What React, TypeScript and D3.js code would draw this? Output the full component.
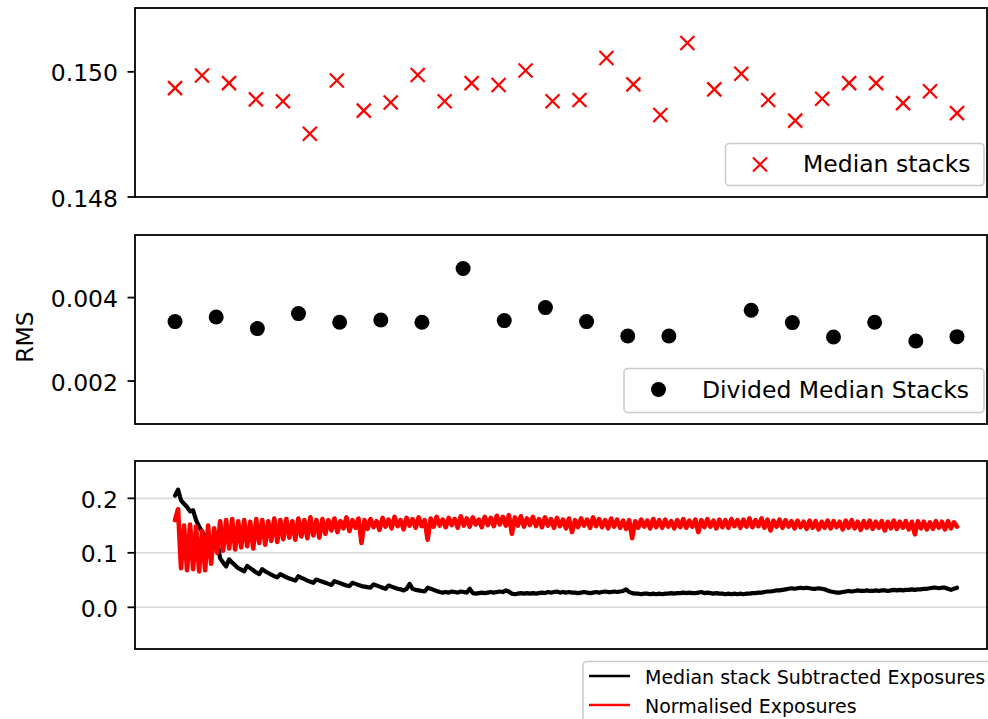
import React from "react";
import * as d3 from "d3";

// Median stack RMS per stack
const medianStacks: number[] = [
  0.14974, 0.14994, 0.14982, 0.14956, 0.14953, 0.14901, 0.14986, 0.14938,
  0.14951, 0.14995, 0.14953, 0.14982, 0.14979, 0.15002, 0.14953, 0.14955,
  0.15022, 0.1498, 0.14931, 0.15046, 0.14972, 0.14997, 0.14955, 0.14922,
  0.14957, 0.14982, 0.14982, 0.1495, 0.14969, 0.14934,
];

// Divided median stack RMS (one stack has no value)
const dividedStacks: (number | null)[] = [
  0.003424, 0.003536, 0.003256, 0.003616, 0.003408, 0.003464, 0.003408,
  0.004696, 0.003448, 0.00376, 0.003424, 0.00308, 0.00308, null, 0.003696,
  0.0034, 0.003056, 0.003408, 0.00296, 0.003064,
];

// Running RMS of the median-stack subtracted exposures
const subtractedRms: number[] = [
  0.205, 0.216, 0.196, 0.19, 0.184, 0.176, 0.178, 0.16, 0.148, 0.139,
  0.131, 0.125, 0.12, 0.122, 0.123, 0.09, 0.082, 0.075, 0.088, 0.082,
  0.077, 0.072, 0.069, 0.066, 0.076, 0.072, 0.068, 0.064, 0.061, 0.07,
  0.066, 0.063, 0.06, 0.057, 0.055, 0.061, 0.058, 0.055, 0.053, 0.051,
  0.049, 0.057, 0.054, 0.052, 0.049, 0.047, 0.045, 0.051, 0.049, 0.047,
  0.045, 0.043, 0.041, 0.048, 0.046, 0.044, 0.042, 0.04, 0.039, 0.045,
  0.043, 0.041, 0.039, 0.038, 0.037, 0.036, 0.042, 0.04, 0.038, 0.036,
  0.034, 0.04, 0.038, 0.036, 0.034, 0.033, 0.031, 0.034, 0.043, 0.034,
  0.032, 0.031, 0.03, 0.029, 0.036, 0.034, 0.032, 0.03, 0.028, 0.027,
  0.028, 0.027, 0.029, 0.028, 0.027, 0.029, 0.028, 0.027, 0.034, 0.026,
  0.025, 0.026, 0.027, 0.026, 0.027, 0.028, 0.027, 0.028, 0.029, 0.028,
  0.031, 0.029, 0.025, 0.024, 0.025, 0.026, 0.025, 0.026, 0.025, 0.026,
  0.025, 0.026, 0.027, 0.026, 0.028, 0.027, 0.028, 0.029, 0.027, 0.028,
  0.027, 0.028, 0.027, 0.027, 0.026, 0.027, 0.028, 0.027, 0.026, 0.027,
  0.028, 0.027, 0.028, 0.029, 0.028, 0.028, 0.029, 0.028, 0.029, 0.03,
  0.033, 0.028, 0.026, 0.025, 0.025, 0.024, 0.025, 0.025, 0.024, 0.025,
  0.024, 0.025, 0.024, 0.025, 0.025, 0.026, 0.025, 0.026, 0.026, 0.027,
  0.026, 0.027, 0.026, 0.026, 0.027, 0.028, 0.026, 0.027, 0.026, 0.025,
  0.026, 0.025, 0.025, 0.024, 0.025, 0.024, 0.025, 0.024, 0.025, 0.024,
  0.025, 0.025, 0.026, 0.026, 0.027, 0.027, 0.028, 0.029, 0.029, 0.03,
  0.031, 0.031, 0.032, 0.033, 0.034, 0.035, 0.034, 0.035, 0.036, 0.035,
  0.036, 0.035, 0.034, 0.034, 0.035, 0.034, 0.033, 0.031, 0.029, 0.028,
  0.027, 0.027, 0.028, 0.029, 0.03, 0.029, 0.03, 0.031, 0.03, 0.03,
  0.031, 0.03, 0.03, 0.031, 0.03, 0.031, 0.031, 0.03, 0.031, 0.032,
  0.031, 0.032, 0.031, 0.032, 0.032, 0.033, 0.032, 0.033, 0.033, 0.034,
  0.034, 0.035, 0.036, 0.036, 0.035, 0.036, 0.036, 0.034, 0.032, 0.034,
  0.036,
];

// Running RMS of the normalised exposures
const normalisedRms: number[] = [
  0.16, 0.18, 0.072, 0.15, 0.068, 0.152, 0.07, 0.148, 0.066, 0.14,
  0.068, 0.15, 0.08, 0.145, 0.1, 0.158, 0.104, 0.16, 0.108, 0.162,
  0.106, 0.158, 0.11, 0.16, 0.112, 0.157, 0.108, 0.162, 0.118, 0.16,
  0.115, 0.158, 0.122, 0.163, 0.12, 0.16, 0.125, 0.162, 0.128, 0.158,
  0.124, 0.163, 0.13, 0.16, 0.127, 0.165, 0.132, 0.16, 0.128, 0.162,
  0.135, 0.16, 0.141, 0.163, 0.138, 0.158, 0.145, 0.165, 0.14, 0.16,
  0.146, 0.163, 0.118, 0.16, 0.144, 0.162, 0.147, 0.158, 0.142, 0.164,
  0.148, 0.161, 0.145, 0.166, 0.149, 0.16, 0.143, 0.164, 0.15, 0.162,
  0.146, 0.165, 0.149, 0.16, 0.124, 0.163, 0.148, 0.166, 0.15, 0.161,
  0.147, 0.164, 0.151, 0.162, 0.146, 0.167, 0.15, 0.163, 0.148, 0.165,
  0.152, 0.161, 0.147, 0.166, 0.151, 0.164, 0.149, 0.168, 0.152, 0.166,
  0.15, 0.169, 0.135, 0.165, 0.15, 0.167, 0.148, 0.163, 0.151, 0.166,
  0.149, 0.162, 0.147, 0.165, 0.15, 0.162, 0.146, 0.164, 0.149, 0.161,
  0.145, 0.163, 0.138, 0.16, 0.147, 0.163, 0.15, 0.161, 0.146, 0.165,
  0.149, 0.162, 0.147, 0.16, 0.145, 0.163, 0.148, 0.161, 0.146, 0.159,
  0.144, 0.16, 0.127, 0.158, 0.146, 0.161, 0.148, 0.159, 0.145, 0.162,
  0.147, 0.16, 0.146, 0.161, 0.148, 0.158, 0.145, 0.16, 0.147, 0.162,
  0.146, 0.159, 0.148, 0.161, 0.138, 0.16, 0.147, 0.162, 0.148, 0.159,
  0.145, 0.161, 0.147, 0.16, 0.146, 0.162, 0.149, 0.16, 0.146, 0.161,
  0.148, 0.163, 0.147, 0.16, 0.149, 0.163, 0.146, 0.161, 0.141, 0.159,
  0.148, 0.161, 0.146, 0.16, 0.148, 0.158, 0.145, 0.159, 0.147, 0.157,
  0.144, 0.159, 0.146, 0.158, 0.143, 0.157, 0.146, 0.159, 0.145, 0.158,
  0.147, 0.157, 0.143, 0.159, 0.146, 0.16, 0.145, 0.157, 0.142, 0.158,
  0.146, 0.159, 0.144, 0.157, 0.146, 0.158, 0.141, 0.157, 0.145, 0.159,
  0.144, 0.157, 0.146, 0.158, 0.143, 0.157, 0.134, 0.158, 0.145, 0.157,
  0.143, 0.156, 0.144, 0.158, 0.146, 0.157, 0.143, 0.158, 0.145, 0.156,
  0.148,
];

const topTicks = [0.148, 0.15];
const midTicks = [0.002, 0.004];
const bottomTicks = [0.0, 0.1, 0.2];

const W = 988;
const H = 719;
const FONT = "'DejaVu Sans', sans-serif";

const left = 135;
const right = 987;

const panels = {
  top: { y0: 8, y1: 197 },
  mid: { y0: 235, y1: 424 },
  bot: { y0: 461, y1: 649 },
};

// Shared horizontal position: 0 = first sample, 1 = last sample
const x = d3.scaleLinear().domain([-0.0512, 1.0384]).range([left, right]);

const yTop = d3.scaleLinear().domain([0.148, 0.15102]).range([panels.top.y1, panels.top.y0]);
const yMid = d3.scaleLinear().domain([0.00097, 0.0055]).range([panels.mid.y1, panels.mid.y0]);
const yBot = d3.scaleLinear().domain([-0.0765, 0.2685]).range([panels.bot.y1, panels.bot.y0]);

const SPINE = 1.8;

function YAxis({ scale, ticks, fmt }: { scale: d3.ScaleLinear<number, number>; ticks: number[]; fmt: (v: number) => string }) {
  return (
    <g>
      {ticks.map((t) => (
        <g key={t}>
          <line x1={left - 7.5} x2={left} y1={scale(t)} y2={scale(t)} stroke="#000" strokeWidth={SPINE} />
          <text x={118} y={scale(t) + 9.5} textAnchor="end" fontSize={23.5} fontFamily={FONT} fill="#000">
            {fmt(t)}
          </text>
        </g>
      ))}
    </g>
  );
}

function Frame({ y0, y1 }: { y0: number; y1: number }) {
  return <rect x={left} y={y0} width={right - left} height={y1 - y0} fill="none" stroke="#000" strokeWidth={SPINE} />;
}

function Cross({ cx, cy, r = 7, color = "red" }: { cx: number; cy: number; r?: number; color?: string }) {
  return (
    <g stroke={color} strokeWidth={2.2}>
      <line x1={cx - r} y1={cy - r} x2={cx + r} y2={cy + r} />
      <line x1={cx - r} y1={cy + r} x2={cx + r} y2={cy - r} />
    </g>
  );
}

export default function App() {
  const f3 = d3.format(".3f");
  const f1 = d3.format(".1f");

  const n = subtractedRms.length;
  const lineBlack = d3
    .line<number>()
    .x((_, i) => x(i / (n - 1)))
    .y((d) => yBot(d));
  const m = normalisedRms.length;
  const lineRed = d3
    .line<number>()
    .x((_, i) => x(i / (m - 1)))
    .y((d) => yBot(d));

  return (
    <svg
      width={W}
      height={H}
      viewBox={`0 0 ${W} ${H}`}
      style={{ position: "absolute", left: 0, top: 0, background: "#fff" }}
    >
      <rect width={W} height={H} fill="#fff" />

      {/* Top panel: median stacks */}
      {medianStacks.map((v, i) => (
        <Cross key={i} cx={x(i / (medianStacks.length - 1))} cy={yTop(v)} />
      ))}
      <Frame {...panels.top} />
      <YAxis scale={yTop} ticks={topTicks} fmt={f3} />
      <g>
        <rect x={725.5} y={143.5} width={258.5} height={42} rx={4} fill="#fff" fillOpacity={0.8} stroke="#cccccc" strokeWidth={1.6} />
        <Cross cx={760} cy={164.5} />
        <text x={803} y={171.5} fontSize={23.5} fontFamily={FONT} fill="#000">
          Median stacks
        </text>
      </g>

      {/* Middle panel: divided median stacks */}
      {dividedStacks.map((v, i) =>
        v == null ? null : (
          <circle key={i} cx={x(i / (dividedStacks.length - 1))} cy={yMid(v)} r={7.5} fill="#000" />
        )
      )}
      <Frame {...panels.mid} />
      <YAxis scale={yMid} ticks={midTicks} fmt={f3} />
      <text
        transform={`translate(33,337) rotate(-90)`}
        textAnchor="middle"
        fontSize={23.5}
        fontFamily={FONT}
        fill="#000"
      >
        RMS
      </text>
      <g>
        <rect x={624} y={368.5} width={360} height={44} rx={4} fill="#fff" fillOpacity={0.8} stroke="#cccccc" strokeWidth={1.6} />
        <circle cx={658.5} cy={389.5} r={7.5} fill="#000" />
        <text x={702} y={397.5} fontSize={23.5} fontFamily={FONT} fill="#000">
          Divided Median Stacks
        </text>
      </g>

      {/* Bottom panel: running RMS of exposures */}
      {bottomTicks.map((t) => (
        <line key={t} x1={left} x2={right} y1={yBot(t)} y2={yBot(t)} stroke="#d9d9d9" strokeWidth={1.6} />
      ))}
      <path d={lineBlack(subtractedRms) ?? ""} fill="none" stroke="#000" strokeWidth={4.2} strokeLinejoin="round" strokeLinecap="round" />
      <path d={lineRed(normalisedRms) ?? ""} fill="none" stroke="red" strokeWidth={4.6} strokeLinejoin="round" strokeLinecap="round" />
      <Frame {...panels.bot} />
      <YAxis scale={yBot} ticks={bottomTicks} fmt={f1} />

      <g>
        <rect x={583} y={661.5} width={420} height={80} rx={4} fill="#fff" fillOpacity={0.8} stroke="#cccccc" strokeWidth={1.6} />
        <line x1={589} x2={630} y1={676} y2={676} stroke="#000" strokeWidth={2.3} />
        <text x={645} y={683.5} fontSize={19} fontFamily={FONT} fill="#000">
          Median stack Subtracted Exposures
        </text>
        <line x1={589} x2={630} y1={705} y2={705} stroke="red" strokeWidth={2.3} />
        <text x={645} y={712.5} fontSize={19} fontFamily={FONT} fill="#000">
          Normalised Exposures
        </text>
      </g>
    </svg>
  );
}
